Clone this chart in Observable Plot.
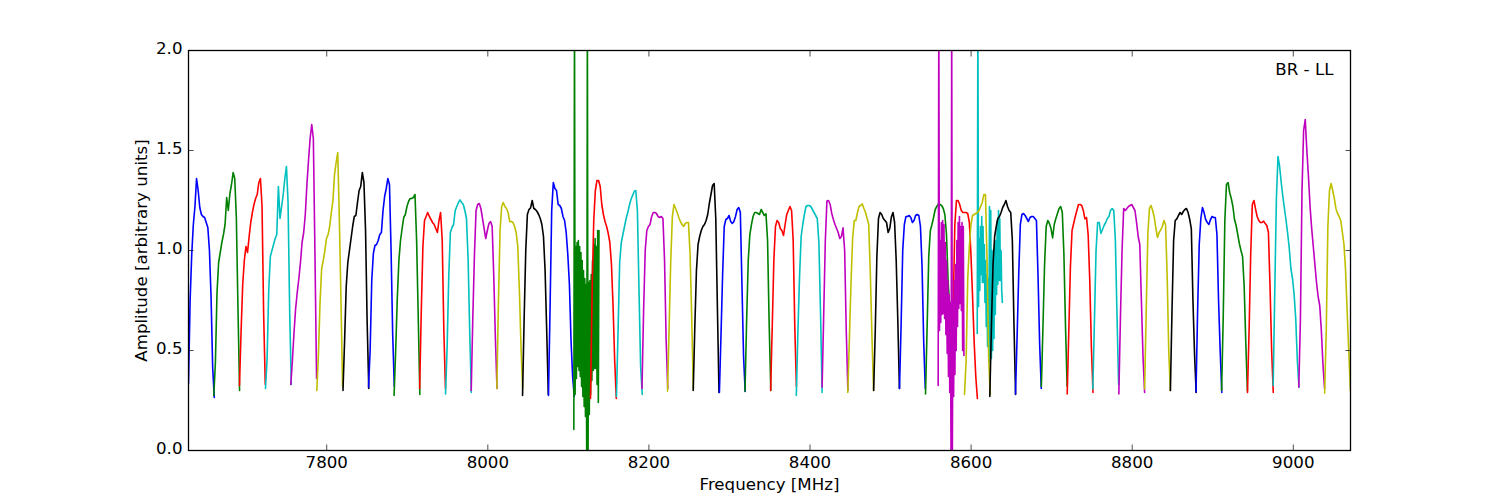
<!DOCTYPE html>
<html>
<head>
<meta charset="utf-8">
<script src="https://cdn.jsdelivr.net/npm/d3@7"></script>
<script src="https://cdn.jsdelivr.net/npm/@observablehq/plot@0.6"></script>
<style>
  html, body { margin: 0; background: white; }
  svg { display: block; }
</style>
</head>
<body>
<div id="chart"></div>
<script>
// line colours, cycled once per subband
const cycle = ["#0000ff", "#008000", "#ff0000", "#00bfbf", "#bf00bf", "#bfbf00", "#000000"];

const xTicks = [7800, 8000, 8200, 8400, 8600, 8800, 9000];
const yTicks = [0, 0.5, 1, 1.5, 2];
const xLabel = "Frequency [MHz]";
const yLabel = "Amplitude [arbitrary units]";
const note = ["BR - LL"];

// first frequency of each subband [MHz]
const bandStart = [
  7628.4, 7659.8, 7691.7, 7724.0, 7755.4, 7787.7, 7820.2, 7851.9, 7883.6, 7915.4,
  7947.5, 7979.4, 8011.2, 8043.1, 8075.3, 8106.8, 8127.5, 8159.7, 8191.4, 8223.1,
  8255.0, 8287.5, 8319.3, 8351.1, 8383.0, 8415.0, 8446.9, 8479.0, 8511.1, 8543.4,
  8577.8, 8607.6, 8559.1, 8591.8, 8623.2, 8655.1, 8687.2, 8719.3, 8751.1, 8783.4,
  8815.4, 8847.4, 8879.2, 8911.0, 8943.1, 8975.0, 9006.8, 9038.9
];
// channel spacing [MHz], the three bands with RFI are read more finely
const bandStep = [
  2, 2, 2, 2, 2, 2, 2, 2, 2, 2, 2, 2, 2, 2, 2, 0.8, 2, 2, 2, 2, 2, 2, 2, 2,
  2, 2, 2, 2, 2, 2, 2, 0.8, 0.8, 2, 2, 2, 2, 2, 2, 2, 2, 2, 2, 2, 2, 2, 2, 2
];
const bandAmp = [
  [.335,.75,.98,1.13,1.22,1.36,1.3,1.215,1.18,1.17,1.165,1.14,1.115,1.0,.77,.415,.265],
  [.275,.44,.79,.94,.99,1.04,1.08,1.13,1.265,1.2,1.285,1.33,1.39,1.36,1.165,.715,.3],
  [.325,.6,.83,.95,1.02,.99,1.07,1.14,1.19,1.23,1.26,1.28,1.34,1.36,1.22,.68,.33],
  [.31,.46,.8,.97,1.0,1.03,1.06,1.08,1.32,1.16,1.22,1.28,1.36,1.42,1.24,.7,.33],
  [.33,.45,.59,.71,.79,.86,.94,1.04,1.09,1.18,1.33,1.45,1.56,1.63,1.56,.98,.36],
  [.3,.48,.74,.91,.95,1.0,1.06,1.08,1.12,1.19,1.25,1.38,1.44,1.49,1.15,.75,.32],
  [.3,.55,.82,.94,1.0,1.06,1.12,1.17,1.175,1.24,1.3,1.32,1.39,1.34,1.1,.64,.31],
  [.317,.5,.85,.985,1.025,1.03,1.05,1.08,1.09,1.2,1.27,1.31,1.36,1.33,1.0,.58,.32],
  [.275,.5,.76,.95,1.05,1.11,1.165,1.18,1.22,1.245,1.26,1.26,1.265,1.28,1.05,.67,.28],
  [.31,.7,1.02,1.15,1.17,1.19,1.17,1.155,1.14,1.13,1.11,1.09,1.15,1.19,1.05,.6,.31],
  [.283,.52,.87,1.09,1.115,1.13,1.2,1.22,1.24,1.253,1.24,1.23,1.2,1.16,.96,.6,.29],
  [.3,.67,.98,1.2,1.23,1.235,1.21,1.16,1.11,1.06,1.1,1.135,1.145,1.12,.87,.56,.31],
  [.31,.75,1.1,1.22,1.24,1.22,1.21,1.19,1.145,1.145,1.14,1.12,1.09,1.02,.8,.52,.31],
  [.275,.66,1.0,1.18,1.205,1.213,1.25,1.21,1.205,1.195,1.18,1.16,1.13,1.07,.9,.6,.28],
  [.275,.72,1.2,1.34,1.31,1.3,1.23,1.225,1.21,1.17,1.15,1.09,.98,.83,.55,.37,.27],
  [.105,2.2,.28,1.02,.36,1.04,.42,1.05,.4,1.02,.37,.99,.32,.95,.27,.9,.22,.86,.17,.83,
   -.05,2.2,-.05,.84,.18,.85,.28,.88,.35,.95,.4,1.03,.41,1.06,.41,1.02,.33,1.1,.24,1.1],
  [.26,.8,1.15,1.3,1.35,1.35,1.32,1.23,1.18,1.145,1.12,1.085,1.04,.93,.72,.45,.26],
  [.27,.6,.94,1.04,1.08,1.12,1.16,1.19,1.225,1.255,1.275,1.295,1.3,1.2,.8,.42,.28],
  [.31,.7,1.0,1.1,1.12,1.13,1.17,1.19,1.19,1.185,1.17,1.165,1.17,1.16,.95,.55,.31],
  [.297,.62,.95,1.17,1.23,1.21,1.19,1.165,1.145,1.13,1.12,1.135,1.14,1.14,.98,.67,.31],
  [.3,.62,.9,1.03,1.07,1.1,1.12,1.13,1.15,1.18,1.235,1.28,1.325,1.335,1.16,.72,.29],
  [.29,.58,.88,1.12,1.155,1.16,1.175,1.145,1.135,1.145,1.17,1.205,1.215,1.19,.83,.47,.295],
  [.297,.65,.95,1.08,1.13,1.17,1.19,1.19,1.185,1.18,1.205,1.19,1.175,1.183,1.05,.63,.3],
  [.3,.62,.95,1.12,1.15,1.14,1.11,1.1,1.075,1.13,1.18,1.2,1.22,1.2,1.05,.62,.32],
  [.275,.6,.87,1.07,1.13,1.18,1.22,1.225,1.225,1.22,1.205,1.19,1.175,1.16,1.04,.7,.29],
  [.317,.68,1.05,1.247,1.25,1.23,1.185,1.155,1.13,1.11,1.09,1.06,1.07,1.113,1.0,.6,.3],
  [.29,.56,.84,1.06,1.15,1.15,1.19,1.22,1.225,1.233,1.21,1.19,1.16,1.13,.88,.57,.3],
  [.3,.6,.97,1.16,1.19,1.18,1.16,1.15,1.14,1.09,1.11,1.167,1.19,1.14,.95,.65,.31],
  [.31,.63,1.0,1.13,1.17,1.17,1.175,1.165,1.14,1.15,1.175,1.18,1.175,1.12,.92,.55,.31],
  [.283,.62,.97,1.1,1.13,1.165,1.205,1.22,1.233,1.23,1.225,1.21,1.18,1.08,.85,.715],
  [.717,1.13,1.25,1.25,1.23,1.2,1.19,1.19,1.19,1.185,1.14,.98,.77,.54,.37,.26],
  [.585,2.2,.72,1.06,.8,1.12,.88,1.17,.84,1.12,.84,1.03,.74,.95,.62,.88,.52,.86,.47,1.22,
   .44,1.2,.46,1.0,.5,.95,.56,1.03,.68,1.05,.78,1.15,.83,1.2,.85,1.16,.85,1.0,.8,.74],
  [.325,2.2,.6,1.05,.64,1.14,.68,1.15,.685,1.13,.66,1.04,.58,.95,.485,.85,.37,.78,.29,.74,
   -.05,2.2,-.02,.75,.27,.85,.38,.93,.5,1.05,.62,1.14,.71,1.17,.735,1.12,.7,1.14,.5,1.12,.475],
  [.28,.45,.86,1.02,1.13,1.175,1.18,1.185,1.19,1.2,1.22,1.24,1.28,1.28,.95,.46,.28],
  [.27,.62,.93,1.07,1.12,1.16,1.17,1.19,1.215,1.23,1.25,1.22,1.2,1.19,1.05,.63,.28],
  [.283,.57,.88,1.13,1.18,1.185,1.175,1.16,1.145,1.165,1.17,1.17,1.16,1.15,.87,.53,.31],
  [.32,.62,.93,1.12,1.15,1.135,1.11,1.063,1.13,1.16,1.185,1.21,1.22,1.19,.98,.62,.32],
  [.283,.6,.92,1.1,1.135,1.17,1.2,1.23,1.23,1.225,1.2,1.158,1.165,1.08,.85,.52,.29],
  [.308,.65,1.0,1.14,1.14,1.085,1.105,1.125,1.14,1.16,1.17,1.2,1.21,1.2,1.05,.68,.33],
  [.283,.67,1.0,1.21,1.2,1.21,1.22,1.225,1.23,1.215,1.2,1.14,1.07,1.03,.75,.47,.29],
  [.308,.7,1.08,1.21,1.225,1.2,1.165,1.11,1.065,1.09,1.103,1.12,1.15,1.13,.87,.49,.3],
  [.3,.7,1.05,1.15,1.158,1.175,1.19,1.18,1.195,1.205,1.21,1.19,1.155,1.108,.75,.48,.29],
  [.292,.7,1.03,1.16,1.215,1.19,1.155,1.14,1.13,1.155,1.17,1.165,1.165,1.08,.75,.5,.29],
  [.3,.667,1.15,1.33,1.34,1.29,1.26,1.22,1.155,1.125,1.08,1.035,1.0,.97,.82,.54,.3],
  [.29,.6,.98,1.23,1.25,1.208,1.17,1.15,1.14,1.14,1.147,1.135,1.125,1.09,.82,.5,.29],
  [.325,.8,1.26,1.47,1.42,1.34,1.27,1.21,1.15,1.085,1.01,.91,.86,.78,.66,.45,.317],
  [.317,.65,1.3,1.6,1.655,1.5,1.37,1.22,1.11,1.02,.93,.84,.77,.725,.6,.43,.31],
  [.287,.6,1.12,1.3,1.335,1.3,1.26,1.21,1.185,1.17,1.15,1.09,1.03,.9,.69,.49,.3]
];

// one row per channel
const rows = [];
bandAmp.forEach((amps, band) => {
  amps.forEach((amp, i) => {
    rows.push({
      band: band,
      freq: bandStart[band] + i * bandStep[band],
      amp: amp,
      color: cycle[band % cycle.length]
    });
  });
});

const plot = Plot.plot({
  width: 1500,
  height: 500,
  marginLeft: 188,
  marginRight: 150,
  marginTop: 50,
  marginBottom: 50,
  style: {fontFamily: "DejaVu Sans", fontSize: "16.67px", background: "white", color: "black"},
  x: {domain: [7628.4, 9071], ticks: xTicks},
  y: {domain: [0, 2]},
  color: {type: "identity"},
  marks: [
    Plot.line(rows, {
      x: "freq",
      y: "amp",
      z: "band",
      stroke: "color",
      strokeWidth: 1.6,
      strokeLinejoin: "round",
      curve: "linear",
      clip: true
    }),
    Plot.frame({stroke: "black", strokeWidth: 1.3}),
    Plot.axisX(xTicks, {
      anchor: "bottom",
      tickSize: -5.5,
      strokeWidth: 0.7,
      tickPadding: 11,
      tickFormat: "d",
      label: xLabel,
      labelAnchor: "center",
      labelArrow: "none",
      labelOffset: 39
    }),
    Plot.axisX(xTicks, {anchor: "top", tickSize: -5.5, strokeWidth: 0.7, fill: "none", label: null}),
    // tick labels sit slightly above their ticks, so they get their own axis mark
    Plot.axisY(yTicks, {
      anchor: "left",
      tickSize: 0,
      tickPadding: 6,
      dy: -2,
      tickFormat: ".1f",
      label: yLabel,
      labelAnchor: "center",
      labelArrow: "none",
      labelOffset: 53
    }),
    Plot.axisY(yTicks, {anchor: "left", tickSize: -5.5, strokeWidth: 0.7, fill: "none", label: null}),
    Plot.axisY(yTicks, {anchor: "right", tickSize: -5.5, strokeWidth: 0.7, fill: "none", label: null}),
    Plot.text(note, {frameAnchor: "top-right", dx: -17, dy: 13, fontSize: 16.67, fill: "black", textAnchor: "end", lineAnchor: "top"})
  ]
});

document.getElementById("chart").appendChild(plot);
</script>
</body>
</html>
